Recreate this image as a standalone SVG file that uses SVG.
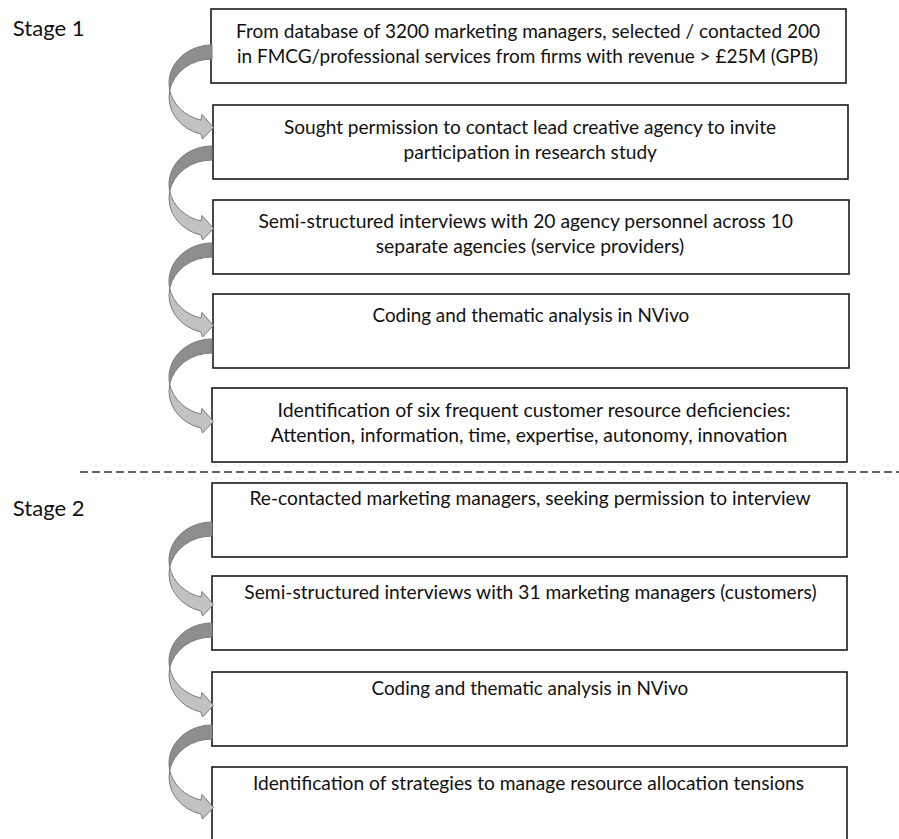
<svg xmlns="http://www.w3.org/2000/svg" xmlns:xlink="http://www.w3.org/1999/xlink" width="899" height="839" viewBox="0 0 899 839">
<style>
.box{fill:#fff;stroke:#1a1a1a;stroke-width:1.6}
.t{font-family:Lato,"Liberation Sans",sans-serif;font-size:18.7px;fill:#111;text-anchor:middle}
.stage{font-family:Lato,"Liberation Sans",sans-serif;font-size:22px;fill:#111}
.back{fill:#8e8e8e;stroke:#7a7a7a;stroke-width:1}
.front{fill:#c2c2c2;stroke:#7a7a7a;stroke-width:1}
.divider{stroke:#333;stroke-width:1.3;stroke-dasharray:8 4;fill:none}
</style>
<defs>
<g id="curved-arrow">
<path class="back" d="M212 0 A43 38.2 0 0 0 169.73 45.2 A43 38.2 0 0 1 212 14 Z"/>
<path class="front" d="M169.73 45.2 A43 38.2 0 0 0 201 75.1 L202 69.5 L213.5 82.5 L202.5 94 L201 89.1 A43 38.2 0 0 1 169.73 45.2 Z"/>
</g>
</defs>
<rect width="899" height="839" fill="#fff"/>

<text class="stage" x="12.7" y="36" textLength="72" lengthAdjust="spacingAndGlyphs">Stage 1</text>
<text class="stage" x="12.7" y="516" textLength="72" lengthAdjust="spacingAndGlyphs">Stage 2</text>

<line class="divider" x1="80" y1="472" x2="899" y2="472"/>

<g id="node1">
<rect class="box" x="211" y="9" width="635" height="74"/>
<text class="t" x="528" y="37.5" textLength="584" lengthAdjust="spacingAndGlyphs">From database of 3200 marketing managers, selected / contacted 200</text>
<text class="t" x="527.5" y="62.5" textLength="581" lengthAdjust="spacingAndGlyphs">in FMCG/professional services from firms with revenue &gt; £25M (GPB)</text>
</g>
<g id="node2">
<rect class="box" x="213" y="105" width="635" height="74"/>
<text class="t" x="530" y="133.5" textLength="492" lengthAdjust="spacingAndGlyphs">Sought permission to contact lead creative agency to invite</text>
<text class="t" x="530.3" y="158.5" textLength="253.4" lengthAdjust="spacingAndGlyphs">participation in research study</text>
</g>
<g id="node3">
<rect class="box" x="213" y="200" width="636" height="74"/>
<text class="t" x="525.7" y="228" textLength="534.6" lengthAdjust="spacingAndGlyphs">Semi-structured interviews with 20 agency personnel across 10</text>
<text class="t" x="529.9" y="253" textLength="308.3" lengthAdjust="spacingAndGlyphs">separate agencies (service providers)</text>
</g>
<g id="node4">
<rect class="box" x="213" y="294" width="636" height="74"/>
<text class="t" x="530.9" y="322" textLength="316.8" lengthAdjust="spacingAndGlyphs">Coding and thematic analysis in NVivo</text>
</g>
<g id="node5">
<rect class="box" x="212" y="388" width="635" height="74"/>
<text class="t" x="534" y="417" textLength="513" lengthAdjust="spacingAndGlyphs">Identification of six frequent customer resource deficiencies:</text>
<text class="t" x="529" y="442" textLength="516.6" lengthAdjust="spacingAndGlyphs">Attention, information, time, expertise, autonomy, innovation</text>
</g>
<g id="node6">
<rect class="box" x="212" y="483" width="635" height="74"/>
<text class="t" x="530.1" y="505" textLength="561.2" lengthAdjust="spacingAndGlyphs">Re-contacted marketing managers, seeking permission to interview</text>
</g>
<g id="node7">
<rect class="box" x="212" y="576" width="635" height="74"/>
<text class="t" x="530.5" y="598.5" textLength="572.3" lengthAdjust="spacingAndGlyphs">Semi-structured interviews with 31 marketing managers (customers)</text>
</g>
<g id="node8">
<rect class="box" x="212" y="672" width="635" height="74"/>
<text class="t" x="529.9" y="695" textLength="316.8" lengthAdjust="spacingAndGlyphs">Coding and thematic analysis in NVivo</text>
</g>
<g id="node9">
<rect class="box" x="212" y="767" width="635" height="74"/>
<text class="t" x="528.5" y="790" textLength="551.1" lengthAdjust="spacingAndGlyphs">Identification of strategies to manage resource allocation tensions</text>
</g>

<g id="connectors">
<use xlink:href="#curved-arrow" transform="translate(0,45)"/>
<use xlink:href="#curved-arrow" transform="translate(0,146)"/>
<use xlink:href="#curved-arrow" transform="translate(0,243)"/>
<use xlink:href="#curved-arrow" transform="translate(0,339)"/>
<use xlink:href="#curved-arrow" transform="translate(0,522)"/>
<use xlink:href="#curved-arrow" transform="translate(0,623)"/>
<use xlink:href="#curved-arrow" transform="translate(0,725)"/>
</g>
</svg>
